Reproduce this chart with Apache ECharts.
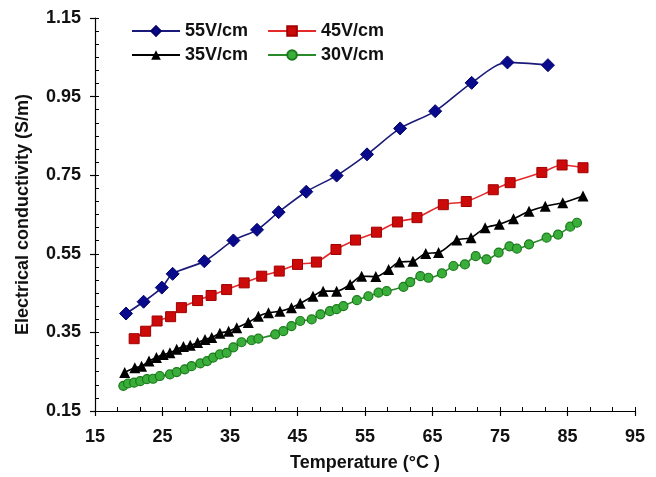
<!DOCTYPE html>
<html>
<head>
<meta charset="utf-8">
<script src="https://cdn.jsdelivr.net/npm/echarts@6/dist/echarts.min.js"></script>
<style>
html,body{margin:0;padding:0;background:#fff;}
#chart{width:656px;height:477px;}
</style>
</head>
<body>
<div id="chart"></div>
<script>
// ---- data ----
const seriesNames = ['55V/cm', '45V/cm', '35V/cm', '30V/cm'];

const x55 = [19.6, 22.2, 24.9, 26.5, 31.2, 35.5, 39.0, 42.2, 46.3, 50.8, 55.3, 60.2, 65.4, 70.8, 76.1, 82.1];
const y55 = [0.398, 0.428, 0.464, 0.499, 0.531, 0.584, 0.611, 0.656, 0.708, 0.749, 0.803, 0.869, 0.913, 0.985, 1.037, 1.030];

const x45 = [20.8, 22.5, 24.2, 26.2, 27.8, 30.2, 32.2, 34.5, 37.1, 39.7, 42.3, 45.0, 47.8, 50.7, 53.6, 56.7, 59.8, 62.7, 66.6, 70.0, 74.0, 76.5, 81.2, 84.2, 87.3];
const y45 = [0.334, 0.353, 0.379, 0.390, 0.413, 0.431, 0.444, 0.459, 0.476, 0.493, 0.506, 0.523, 0.529, 0.561, 0.585, 0.605, 0.631, 0.642, 0.675, 0.683, 0.713, 0.731, 0.757, 0.776, 0.769];

const x35 = [19.4, 20.9, 21.9, 23.0, 24.1, 25.1, 26.1, 27.1, 28.1, 29.1, 30.2, 31.3, 32.3, 33.5, 34.8, 36.0, 37.7, 39.2, 40.7, 42.4, 44.1, 45.4, 47.3, 48.8, 50.8, 52.8, 54.5, 56.6, 58.5, 60.1, 62.1, 64.0, 65.9, 68.6, 70.7, 72.8, 74.9, 77.0, 79.3, 81.7, 84.3, 87.3];
const y35 = [0.248, 0.260, 0.264, 0.277, 0.286, 0.294, 0.298, 0.307, 0.314, 0.317, 0.324, 0.332, 0.337, 0.348, 0.353, 0.362, 0.375, 0.391, 0.400, 0.404, 0.413, 0.424, 0.442, 0.455, 0.455, 0.472, 0.493, 0.492, 0.510, 0.529, 0.531, 0.551, 0.553, 0.585, 0.591, 0.616, 0.625, 0.639, 0.658, 0.671, 0.680, 0.697];

const x30 = [19.2, 19.9, 20.8, 21.7, 22.7, 23.6, 24.6, 26.1, 27.1, 28.3, 29.3, 30.6, 31.6, 32.5, 33.5, 34.5, 35.5, 36.7, 38.2, 39.2, 41.7, 42.9, 44.1, 45.4, 47.1, 48.4, 49.8, 50.8, 51.8, 53.8, 55.5, 57.0, 58.2, 60.7, 61.7, 63.2, 64.4, 66.4, 68.1, 69.8, 71.4, 73.0, 74.8, 76.4, 77.5, 79.3, 81.9, 83.6, 85.4, 86.4];
const y30 = [0.214, 0.220, 0.222, 0.226, 0.231, 0.232, 0.239, 0.243, 0.249, 0.256, 0.264, 0.271, 0.277, 0.286, 0.294, 0.298, 0.312, 0.325, 0.330, 0.334, 0.345, 0.353, 0.366, 0.379, 0.383, 0.396, 0.404, 0.409, 0.417, 0.432, 0.442, 0.451, 0.455, 0.466, 0.478, 0.493, 0.489, 0.500, 0.519, 0.523, 0.544, 0.536, 0.553, 0.569, 0.563, 0.574, 0.591, 0.599, 0.619, 0.629];

const xMin = 15, xMax = 95, xStep = 10;
const yMin = 0.15, yMax = 1.15, yStep = 0.2;

// ---- chart ----
const FONT = '"Liberation Sans", Arial, sans-serif';
const pair = (xs, ys) => xs.map((v, i) => [v, ys[i]]);

const chart = echarts.init(document.getElementById('chart'), null, {renderer: 'canvas'});

const txt = {color: '#111', fontFamily: FONT, fontWeight: 'bold', fontSize: 18};

const legendBase = {
  orient: 'horizontal',
  itemWidth: 48,
  itemHeight: 12,
  itemGap: 19,
  textStyle: Object.assign({}, txt, {padding: [0, 0, 0, 0]})
};

const option = {
  animation: false,
  backgroundColor: '#ffffff',
  grid: {left: 95, right: 21, top: 18, bottom: 65, containLabel: false},
  legend: [
    Object.assign({}, legendBase, {data: [seriesNames[0], seriesNames[1]], left: 126, top: 17}),
    Object.assign({}, legendBase, {data: [seriesNames[2], seriesNames[3]], left: 126, top: 41})
  ],
  xAxis: [{
    type: 'value', min: xMin, max: xMax, interval: xStep,
    name: 'Temperature (°C )', nameLocation: 'middle', nameGap: 43,
    nameTextStyle: Object.assign({}, txt, {fontSize: 18}),
    axisLine: {show: true, onZero: false, lineStyle: {color: '#000', width: 1.2}},
    axisTick: {show: true, inside: false, length: 5, lineStyle: {color: '#000', width: 1.2}},
    axisLabel: Object.assign({}, txt, {margin: 17}),
    splitLine: {show: false}
  }, {
    type: 'value', min: xMin, max: xMax, interval: xStep / 3, position: 'bottom',
    axisLine: {show: false}, axisLabel: {show: false}, splitLine: {show: false},
    axisTick: {show: true, inside: true, length: 4, lineStyle: {color: '#000', width: 1}}
  }],
  yAxis: [{
    type: 'value', min: yMin, max: yMax, interval: yStep,
    name: 'Electrical conductivity (S/m)', nameLocation: 'middle', nameGap: 63, nameRotate: 90,
    nameTextStyle: Object.assign({}, txt, {fontSize: 18}),
    axisLine: {show: true, onZero: false, lineStyle: {color: '#000', width: 1.2}},
    axisTick: {show: true, inside: false, length: 5, lineStyle: {color: '#000', width: 1.2}},
    axisLabel: Object.assign({}, txt, {margin: 14, formatter: v => v.toFixed(2)}),
    splitLine: {show: false}
  }, {
    type: 'value', min: yMin, max: yMax, interval: yStep / 6, position: 'left',
    axisLine: {show: false}, axisLabel: {show: false}, splitLine: {show: false},
    axisTick: {show: true, inside: true, length: 4, lineStyle: {color: '#000', width: 1}}
  }],
  series: [
    {
      name: seriesNames[0], type: 'line', smooth: 0.3, data: pair(x55, y55),
      symbol: 'diamond', symbolSize: 13,
      lineStyle: {color: '#1a1a7a', width: 1.6},
      itemStyle: {color: '#0a0a8c', borderColor: '#06066a', borderWidth: 1}
    },
    {
      name: seriesNames[1], type: 'line', smooth: 0.3, data: pair(x45, y45),
      symbol: 'rect', symbolSize: 10,
      lineStyle: {color: '#e42a2a', width: 1.6},
      itemStyle: {color: '#cc0a0a', borderColor: '#a00000', borderWidth: 1}
    },
    {
      name: seriesNames[2], type: 'line', smooth: 0.3, data: pair(x35, y35),
      symbol: 'triangle', symbolSize: 11,
      lineStyle: {color: '#000', width: 1.6},
      itemStyle: {color: '#000', borderColor: '#000', borderWidth: 0}
    },
    {
      name: seriesNames[3], type: 'line', smooth: 0.3, data: pair(x30, y30),
      symbol: 'circle', symbolSize: 9,
      lineStyle: {color: '#2a8a2a', width: 1.6},
      itemStyle: {color: '#3aae3a', borderColor: '#1a7a1a', borderWidth: 1.2}
    }
  ]
};

chart.setOption(option);
</script>
</body>
</html>
